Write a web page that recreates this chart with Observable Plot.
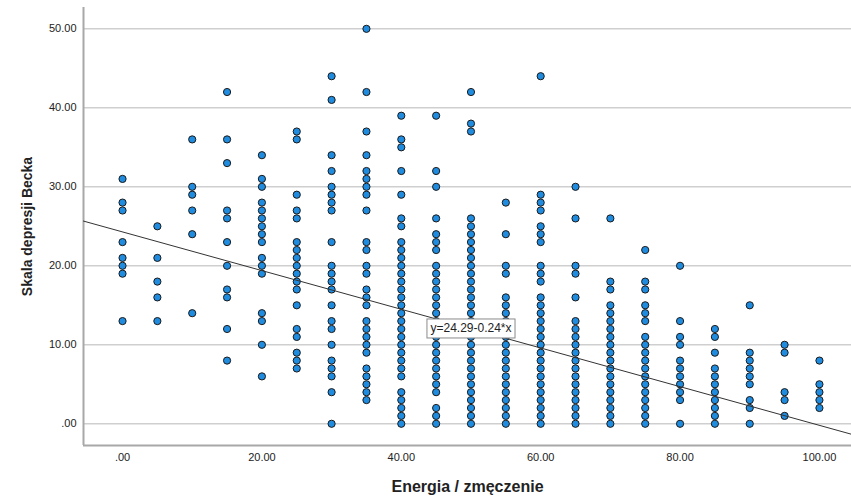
<!DOCTYPE html>
<html>
<head>
<meta charset="utf-8">
<script src="https://cdn.jsdelivr.net/npm/d3@7"></script>
<script src="https://cdn.jsdelivr.net/npm/@observablehq/plot@0.6"></script>
<style>
  html, body { margin: 0; padding: 0; background: #fff; }
  #chart svg { font-family: "Liberation Sans", Arial, sans-serif; }
  #chart g[aria-label="y-axis label"] text { font-size: 14px; font-weight: bold; fill: #222; }
  #chart g[aria-label="x-axis label"] text { font-size: 16px; font-weight: bold; fill: #222; }
  #chart g[aria-label="y-axis tick label"] text,
  #chart g[aria-label="x-axis tick label"] text { font-size: 11px; fill: #222; }
</style>
</head>
<body>
<div id="chart"></div>
<script>
// Energia / zmęczenie levels (x) and Skala depresji Becka values observed at each level (y)
const energyLevels = [0, 5, 10, 15, 20, 25, 30, 35, 40, 45, 50, 55, 60, 65, 70, 75, 80, 85, 90, 95, 100];
const beck0   = [31, 28, 27, 23, 21, 20, 19, 13];
const beck5   = [25, 21, 18, 16, 13];
const beck10  = [36, 30, 29, 27, 24, 14];
const beck15  = [42, 36, 33, 27, 26, 23, 20, 17, 16, 12, 8];
const beck20  = [34, 31, 30, 28, 27, 26, 25, 24, 23, 21, 20, 19, 14, 13, 10, 6];
const beck25  = [37, 36, 29, 27, 26, 23, 22, 21, 20, 19, 18, 17, 15, 12, 11, 9, 8, 7];
const beck30  = [44, 41, 34, 32, 30, 29, 28, 27, 23, 20, 19, 18, 17, 15, 13, 12, 10, 8, 7, 6, 4, 0];
const beck35  = [50, 42, 37, 34, 32, 31, 30, 29, 27, 23, 22, 20, 19, 17, 16, 15, 13, 12, 11, 10, 9, 7, 6, 5, 4, 3];
const beck40  = [39, 36, 35, 32, 29, 26, 25, 23, 22, 21, 20, 19, 18, 17, 16, 15, 14, 13, 12, 11, 10, 9, 8, 7, 6, 4, 3, 2, 1, 0];
const beck45  = [39, 32, 30, 26, 24, 23, 22, 20, 19, 18, 17, 16, 15, 14, 13, 12, 11, 10, 9, 8, 7, 6, 5, 4, 2, 1, 0];
const beck50  = [42, 38, 37, 26, 25, 24, 23, 22, 21, 20, 19, 18, 17, 16, 15, 14, 13, 12, 11, 10, 9, 8, 7, 6, 5, 4, 3, 2, 1, 0];
const beck55  = [28, 24, 20, 19, 16, 15, 14, 13, 12, 11, 10, 9, 8, 7, 6, 5, 4, 3, 2, 1, 0];
const beck60  = [44, 29, 28, 27, 25, 24, 23, 20, 19, 18, 16, 15, 14, 13, 12, 11, 10, 9, 8, 7, 6, 5, 4, 3, 2, 1, 0];
const beck65  = [30, 26, 20, 19, 16, 13, 12, 11, 10, 9, 8, 7, 6, 5, 4, 3, 2, 1, 0];
const beck70  = [26, 18, 17, 15, 14, 13, 12, 11, 10, 9, 8, 7, 6, 5, 4, 3, 2, 1, 0];
const beck75  = [22, 18, 17, 15, 14, 13, 11, 10, 9, 8, 7, 6, 5, 4, 3, 2, 1, 0];
const beck80  = [20, 13, 11, 10, 8, 7, 6, 5, 4, 3, 0];
const beck85  = [12, 11, 9, 7, 6, 5, 4, 3, 2, 1, 0];
const beck90  = [15, 9, 8, 7, 6, 5, 3, 2, 0];
const beck95  = [10, 9, 4, 3, 1];
const beck100 = [8, 5, 4, 3, 2];
const beckByLevel = [beck0, beck5, beck10, beck15, beck20, beck25, beck30, beck35, beck40, beck45, beck50,
                     beck55, beck60, beck65, beck70, beck75, beck80, beck85, beck90, beck95, beck100];

// Fit line shown in the chart: y = 24.29 - 0.24*x
const fitIntercept = 24.29;
const fitSlope = -0.2449;
const fitLabel = "y=24.29-0.24*x";
const fitLabelX = 50;

const yTicks = [0, 10, 20, 30, 40, 50];
const xTicks = [0, 20, 40, 60, 80, 100];

const xDomain = [-5.6, 104.6];
const yDomain = [-2.75, 52.7];

const points = [];
energyLevels.forEach((e, i) => beckByLevel[i].forEach(b => points.push({energy: e, beck: b})));
const fitLine = xDomain.map(x => ({x, y: fitIntercept + fitSlope * x}));
const labelPos = [{x: fitLabelX, y: fitIntercept + fitSlope * fitLabelX, text: fitLabel}];

const fmt = d => d === 0 ? ".00" : d.toFixed(2);

const chart = Plot.plot({
  width: 851,
  height: 500,
  marginLeft: 83,
  marginRight: 0,
  marginTop: 7,
  marginBottom: 55,
  x: {domain: xDomain},
  y: {domain: yDomain},
  marks: [
    Plot.gridY(yTicks, {stroke: "#cfcfcf", strokeOpacity: 1, strokeWidth: 1.5}),
    Plot.ruleX([xDomain[0]], {stroke: "#a8a8a8", strokeWidth: 2}),
    Plot.ruleY([yDomain[0]], {stroke: "#a8a8a8", strokeWidth: 2}),
    Plot.axisY({ticks: yTicks, tickSize: 0, tickPadding: 7, tickFormat: fmt,
      label: "Skala depresji Becka", labelAnchor: "center", labelOffset: 61, labelArrow: "none"}),
    Plot.axisX({ticks: xTicks, tickSize: 0, tickPadding: 8, tickFormat: fmt,
      label: "Energia / zmęczenie", labelAnchor: "center", labelOffset: 46, labelArrow: "none"}),
    Plot.dot(points, {x: "energy", y: "beck", r: 3.6, fill: "#1f8ce0", stroke: "#1a1a1a", strokeWidth: 1}),
    Plot.line(fitLine, {x: "x", y: "y", stroke: "#333", strokeWidth: 1}),
    Plot.text(labelPos, {x: "x", y: "y", text: "text", fontSize: 12, fill: "#222",
      fontFamily: "Liberation Sans, Arial, sans-serif", className: "fit-label"})
  ]
});
document.getElementById("chart").appendChild(chart);

// white box with gray border behind the fit label
document.querySelectorAll("g.fit-label text, .fit-label text").forEach(t => {
  const bb = t.getBBox();
  const rect = document.createElementNS("http://www.w3.org/2000/svg", "rect");
  rect.setAttribute("x", bb.x - 3.5);
  rect.setAttribute("y", bb.y - 2.5);
  rect.setAttribute("width", bb.width + 7);
  rect.setAttribute("height", bb.height + 5);
  rect.setAttribute("fill", "#fff");
  rect.setAttribute("stroke", "#8a8a8a");
  rect.setAttribute("stroke-width", "1");
  const tr = t.getAttribute("transform");
  if (tr) rect.setAttribute("transform", tr);
  t.parentNode.insertBefore(rect, t);
});
</script>
</body>
</html>
